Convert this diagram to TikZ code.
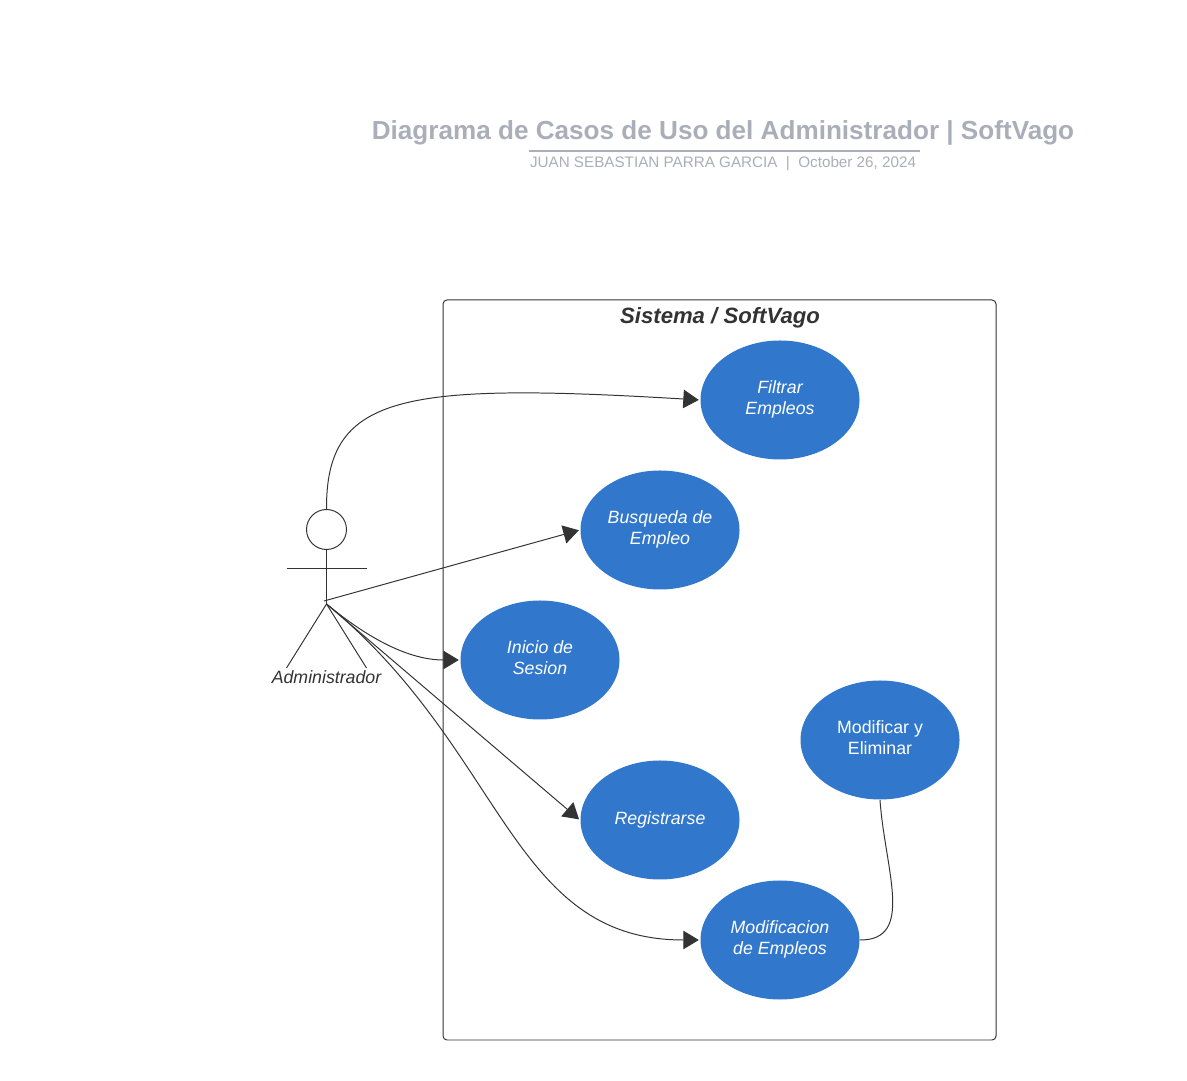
\documentclass[tikz,border=0pt]{standalone}
\usepackage{fontspec}
\setmainfont{Liberation Sans}
\usetikzlibrary{shapes.geometric,arrows.meta}
\definecolor{usecase}{HTML}{3178CD}
\definecolor{titlegray}{HTML}{A9AEB9}
\definecolor{linegray}{HTML}{333333}
\tikzset{
  usecasenode/.style={ellipse,fill=usecase,text=white,minimum width=1.59cm,minimum height=1.19cm,
    inner sep=0pt,align=center,text depth=1.63pt,font=\fontsize{5.05}{5.97}\selectfont\itshape},
  conn/.style={draw=linegray,line width=0.28pt},
  arrowconn/.style={conn,shorten >=0.01cm,-{Triangle[length=0.155cm,width=0.185cm,color=linegray]}},
}
\begin{document}
\begin{tikzpicture}
\useasboundingbox (0,0) rectangle (11.87,10.8);

% title
\node[text=titlegray,font=\fontsize{7.43}{9}\selectfont\bfseries] (title) at (7.23,9.47) {Diagrama de Casos de Uso del Administrador | SoftVago};
\node[text=titlegray,font=\fontsize{4.33}{5}\selectfont] (subtitle) at (7.23,9.16) {JUAN SEBASTIAN PARRA GARCIA~~|~~October 26, 2024};
\coordinate (ruleL) at (5.29,9.29);
\coordinate (ruleR) at (9.2,9.29);
\draw[titlegray,line width=0.5pt] (ruleL) -- (ruleR);

% system box
\node[draw=linegray,line width=0.28pt,rounded corners=0.04cm,minimum width=5.53cm,minimum height=7.4cm,inner sep=0pt] (sistema) at (7.195,4.1) {};
\node[text=black!80,font=\fontsize{6.3}{7}\selectfont\bfseries\itshape] (sistemaT) at (7.2,7.62) {Sistema / SoftVago};

% use cases
\node[usecasenode] (filtrar) at (7.8,6.8) {Filtrar\\Empleos};
\node[usecasenode] (busqueda) at (6.6,5.5) {Busqueda de\\Empleo};
\node[usecasenode] (inicio) at (5.4,4.2) {Inicio de\\Sesion};
\node[usecasenode,text depth=1.06pt] (registrarse) at (6.6,2.6) {Registrarse};
\node[usecasenode] (modificacion) at (7.8,1.4) {Modificacion\\de Empleos};
\node[usecasenode,font=\fontsize{5.05}{5.97}\selectfont] (modificar) at (8.8,3.4) {Modificar y\\Eliminar};

% actor
\node[draw=linegray,line width=0.28pt,circle,minimum size=0.4cm,inner sep=0pt] (head) at (3.265,5.505) {};
\coordinate (hip) at (3.265,4.76);
\coordinate (armL) at (2.865,5.11);
\coordinate (armR) at (3.665,5.11);
\coordinate (legL) at (2.865,4.12);
\coordinate (legR) at (3.665,4.12);
\coordinate (hand) at (3.24,4.79);
\draw[conn] (head.south) -- (hip);
\draw[conn] (armL) -- (armR);
\draw[conn] (hip) -- (legL);
\draw[conn] (hip) -- (legR);
\node[text=black!80,font=\fontsize{5.05}{6}\selectfont\itshape] (actor) at (3.265,4.03) {Administrador};

% connectors
\draw[arrowconn] (head.north) .. controls (3.26,6.85) and (4.0,6.98) .. (filtrar.west);
\draw[arrowconn] (hand) -- (busqueda.west);
\draw[arrowconn] (hip) .. controls (3.7,4.4) and (4.1,4.2) .. (inicio.west);
\draw[arrowconn] (hip) -- (registrarse.west);
\draw[arrowconn] (hip) .. controls (5.05,3.3) and (5.1,1.4) .. (modificacion.west);
\draw[conn] (modificacion.east) .. controls (9.15,1.4) and (8.85,2.1) .. (modificar.south);
\end{tikzpicture}
\end{document}
